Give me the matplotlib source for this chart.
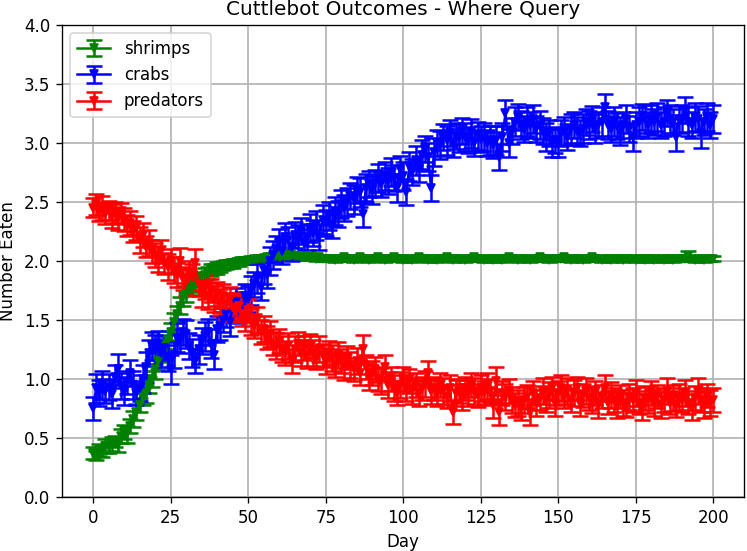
import numpy as np
import matplotlib.pyplot as plt

days = np.arange(0, 201)

# mean number eaten per day
shrimps = [0.37, 0.35, 0.40, 0.39, 0.43, 0.42, 0.45, 0.47, 0.44, 0.52,
           0.55, 0.53, 0.60, 0.66, 0.72, 0.78, 0.85, 0.88, 0.95, 1.00,
           1.08, 1.15, 1.22, 1.30, 1.33, 1.40, 1.48, 1.55, 1.62, 1.70,
           1.72, 1.76, 1.78, 1.80, 1.84, 1.86, 1.88, 1.90, 1.92, 1.93,
           1.94, 1.95, 1.96, 1.97, 1.97, 1.98, 1.99, 1.99, 2.00, 2.00,
           2.00, 2.01, 2.01, 2.02, 2.02, 2.02, 2.03, 2.03, 2.03, 2.04,
           2.04, 2.04, 2.05, 2.04, 2.05, 2.04, 2.04, 2.03, 2.04, 2.03,
           2.03, 2.03, 2.02, 2.03, 2.02, 2.02, 2.02, 2.02, 2.01, 2.02,
           2.02, 2.03, 2.02, 2.02, 2.01, 2.02, 2.03, 2.02, 2.02, 2.01,
           2.02, 2.02, 2.03, 2.02, 2.01, 2.02, 2.02, 2.03, 2.02, 2.02,
           2.01, 2.02, 2.02, 2.01, 2.02, 2.03, 2.02, 2.02, 2.01, 2.02,
           2.02, 2.01, 2.02, 2.02, 2.03, 2.02, 2.01, 2.02, 2.02, 2.02,
           2.01, 2.02, 2.02, 2.03, 2.02, 2.02, 2.01, 2.02, 2.02, 2.01,
           2.02, 2.02, 2.01, 2.02, 2.03, 2.02, 2.02, 2.01, 2.02, 2.02,
           2.02, 2.01, 2.02, 2.02, 2.03, 2.02, 2.02, 2.01, 2.02, 2.02,
           2.02, 2.02, 2.03, 2.02, 2.01, 2.02, 2.02, 2.02, 2.01, 2.02,
           2.02, 2.03, 2.02, 2.02, 2.01, 2.02, 2.02, 2.01, 2.02, 2.02,
           2.02, 2.01, 2.02, 2.02, 2.02, 2.01, 2.02, 2.02, 2.01, 2.02,
           2.02, 2.01, 2.02, 2.02, 2.01, 2.02, 2.02, 2.01, 2.02, 2.02,
           2.02, 2.02, 2.04, 2.02, 2.01, 2.02, 2.02, 2.01, 2.02, 2.02,
           2.02]
shrimps_err = [0.05, 0.04, 0.05, 0.05, 0.06, 0.05, 0.06, 0.05, 0.06, 0.06,
               0.06, 0.07, 0.06, 0.07, 0.07, 0.06, 0.07, 0.08, 0.07, 0.07,
               0.08, 0.07, 0.08, 0.07, 0.08, 0.07, 0.08, 0.07, 0.07, 0.08,
               0.07, 0.06, 0.07, 0.06, 0.06, 0.05, 0.06, 0.05, 0.05, 0.04,
               0.05, 0.04, 0.04, 0.04, 0.03, 0.04, 0.03, 0.03, 0.03, 0.03,
               0.03, 0.03, 0.02, 0.03, 0.02, 0.02, 0.03, 0.02, 0.02, 0.02,
               0.02, 0.02, 0.03, 0.02, 0.02, 0.02, 0.02, 0.02, 0.02, 0.02,
               0.02, 0.02, 0.02, 0.02, 0.02, 0.02, 0.02, 0.02, 0.02, 0.02,
               0.02, 0.02, 0.02, 0.02, 0.02, 0.02, 0.02, 0.02, 0.02, 0.02,
               0.02, 0.02, 0.02, 0.02, 0.02, 0.02, 0.02, 0.02, 0.02, 0.02,
               0.02, 0.02, 0.02, 0.02, 0.02, 0.02, 0.02, 0.02, 0.02, 0.02,
               0.02, 0.02, 0.02, 0.02, 0.02, 0.02, 0.02, 0.02, 0.02, 0.02,
               0.02, 0.02, 0.02, 0.02, 0.02, 0.02, 0.02, 0.02, 0.02, 0.02,
               0.02, 0.02, 0.02, 0.02, 0.02, 0.02, 0.02, 0.02, 0.02, 0.02,
               0.02, 0.02, 0.02, 0.02, 0.02, 0.02, 0.02, 0.02, 0.02, 0.02,
               0.02, 0.02, 0.02, 0.02, 0.02, 0.02, 0.02, 0.02, 0.02, 0.02,
               0.02, 0.02, 0.02, 0.02, 0.02, 0.02, 0.02, 0.02, 0.02, 0.02,
               0.02, 0.02, 0.02, 0.02, 0.02, 0.02, 0.02, 0.02, 0.02, 0.02,
               0.02, 0.02, 0.02, 0.02, 0.02, 0.02, 0.02, 0.02, 0.02, 0.02,
               0.02, 0.02, 0.04, 0.02, 0.02, 0.02, 0.02, 0.02, 0.02, 0.02,
               0.02]

crabs = [0.75, 0.92, 0.88, 0.95, 0.90, 0.93, 0.87, 1.02, 1.08, 0.94,
         0.90, 0.97, 1.05, 0.95, 0.88, 0.92, 1.00, 1.10, 1.22, 1.28,
         1.25, 1.30, 1.22, 1.26, 1.18, 1.08, 1.20, 1.35, 1.32, 1.40,
         1.38, 1.28, 1.22, 1.15, 1.25, 1.32, 1.36, 1.40, 1.30, 1.20,
         1.42, 1.45, 1.50, 1.55, 1.48, 1.60, 1.65, 1.58, 1.62, 1.70,
         1.68, 1.75, 1.80, 1.85, 1.78, 1.92, 1.88, 2.00, 2.05, 2.10,
         2.15, 2.08, 2.20, 2.18, 2.12, 2.22, 2.18, 2.25, 2.15, 2.20,
         2.28, 2.24, 2.30, 2.20, 2.35, 2.32, 2.38, 2.30, 2.42, 2.40,
         2.48, 2.45, 2.50, 2.55, 2.52, 2.60, 2.58, 2.40, 2.62, 2.65,
         2.60, 2.66, 2.70, 2.65, 2.72, 2.68, 2.75, 2.70, 2.62, 2.78,
         2.72, 2.58, 2.80, 2.75, 2.85, 2.78, 2.90, 2.95, 2.88, 2.62,
         2.92, 3.00, 2.98, 3.05, 3.02, 3.08, 3.00, 3.06, 3.04, 3.10,
         3.05, 3.02, 3.08, 3.00, 3.06, 3.03, 3.05, 3.00, 3.02, 2.98,
         3.02, 2.88, 3.05, 3.25, 3.00, 3.10, 3.18, 3.22, 3.15, 3.12,
         3.18, 3.15, 3.20, 3.12, 3.15, 3.10, 3.05, 3.08, 3.00, 3.02,
         3.00, 3.08, 3.10, 3.05, 3.12, 3.15, 3.10, 3.08, 3.12, 3.18,
         3.15, 3.20, 3.12, 3.15, 3.18, 3.30, 3.15, 3.12, 3.18, 3.14,
         3.10, 3.15, 3.20, 3.12, 3.05, 3.15, 3.18, 3.22, 3.20, 3.15,
         3.20, 3.18, 3.22, 3.15, 3.18, 3.25, 3.20, 3.18, 3.05, 3.20,
         3.20, 3.28, 3.18, 3.15, 3.22, 3.20, 3.08, 3.18, 3.22, 3.15,
         3.20]
crabs_err = [0.10, 0.12, 0.11, 0.12, 0.10, 0.11, 0.12, 0.10, 0.13, 0.11,
             0.12, 0.10, 0.11, 0.12, 0.10, 0.11, 0.12, 0.13, 0.11, 0.12,
             0.12, 0.11, 0.12, 0.10, 0.11, 0.12, 0.11, 0.12, 0.10, 0.11,
             0.12, 0.11, 0.12, 0.10, 0.12, 0.11, 0.12, 0.11, 0.12, 0.12,
             0.11, 0.12, 0.10, 0.11, 0.12, 0.11, 0.12, 0.11, 0.12, 0.10,
             0.11, 0.12, 0.11, 0.12, 0.11, 0.12, 0.11, 0.12, 0.12, 0.11,
             0.12, 0.11, 0.12, 0.11, 0.12, 0.11, 0.12, 0.11, 0.12, 0.11,
             0.12, 0.11, 0.12, 0.11, 0.12, 0.11, 0.12, 0.11, 0.12, 0.11,
             0.12, 0.11, 0.12, 0.11, 0.12, 0.11, 0.12, 0.11, 0.12, 0.11,
             0.12, 0.11, 0.12, 0.11, 0.12, 0.11, 0.12, 0.11, 0.12, 0.11,
             0.12, 0.11, 0.12, 0.11, 0.12, 0.11, 0.12, 0.11, 0.12, 0.11,
             0.12, 0.11, 0.12, 0.11, 0.12, 0.11, 0.12, 0.11, 0.12, 0.11,
             0.12, 0.11, 0.12, 0.11, 0.12, 0.11, 0.12, 0.11, 0.12, 0.11,
             0.12, 0.11, 0.12, 0.11, 0.12, 0.11, 0.12, 0.11, 0.12, 0.11,
             0.12, 0.11, 0.12, 0.11, 0.12, 0.11, 0.12, 0.11, 0.12, 0.11,
             0.12, 0.11, 0.12, 0.11, 0.12, 0.11, 0.12, 0.11, 0.12, 0.11,
             0.12, 0.11, 0.12, 0.11, 0.12, 0.11, 0.12, 0.11, 0.12, 0.11,
             0.12, 0.11, 0.12, 0.11, 0.12, 0.11, 0.12, 0.11, 0.12, 0.11,
             0.12, 0.11, 0.12, 0.11, 0.12, 0.11, 0.12, 0.11, 0.12, 0.11,
             0.12, 0.11, 0.12, 0.11, 0.12, 0.11, 0.12, 0.11, 0.12, 0.11,
             0.12]

predators = [2.45, 2.48, 2.42, 2.45, 2.40, 2.43, 2.38, 2.41, 2.36, 2.40,
             2.35, 2.30, 2.32, 2.25, 2.28, 2.18, 2.22, 2.12, 2.15, 2.08,
             2.05, 2.02, 2.08, 1.98, 1.95, 2.00, 1.92, 1.88, 2.00, 1.85,
             1.82, 1.90, 1.86, 1.98, 1.80, 1.72, 1.78, 1.70, 1.75, 1.68,
             1.72, 1.65, 1.70, 1.62, 1.68, 1.60, 1.58, 1.62, 1.55, 1.52,
             1.58, 1.48, 1.45, 1.50, 1.40, 1.42, 1.35, 1.38, 1.30, 1.28,
             1.32, 1.25, 1.22, 1.28, 1.15, 1.25, 1.30, 1.22, 1.26, 1.20,
             1.28, 1.22, 1.18, 1.25, 1.20, 1.15, 1.22, 1.18, 1.12, 1.20,
             1.15, 1.10, 1.18, 1.12, 1.08, 1.15, 1.05, 1.25, 1.10, 1.02,
             1.05, 1.08, 1.00, 0.98, 1.10, 0.95, 1.00, 0.92, 0.88, 0.95,
             1.00, 0.92, 0.98, 0.90, 0.95, 0.88, 0.92, 0.96, 1.05, 0.90,
             0.92, 0.88, 0.95, 0.90, 0.85, 0.92, 0.72, 0.88, 0.90, 0.85,
             0.92, 0.88, 0.95, 0.90, 0.86, 0.92, 0.88, 0.94, 0.90, 0.78,
             0.98, 0.72, 0.88, 0.85, 0.90, 0.82, 0.78, 0.80, 0.75, 0.82,
             0.85, 0.72, 0.88, 0.80, 0.84, 0.90, 0.82, 0.86, 0.92, 0.80,
             0.88, 0.92, 0.85, 0.90, 0.82, 0.88, 0.92, 0.80, 0.86, 0.90,
             0.84, 0.82, 0.88, 0.78, 0.85, 0.92, 0.80, 0.86, 0.82, 0.78,
             0.85, 0.80, 0.78, 0.85, 0.82, 0.88, 0.80, 0.76, 0.84, 0.82,
             0.88, 0.80, 0.85, 0.78, 0.82, 0.90, 0.80, 0.84, 0.78, 0.85,
             0.82, 0.88, 0.80, 0.76, 0.84, 0.90, 0.82, 0.78, 0.86, 0.80,
             0.82]
predators_err = [0.08, 0.09, 0.08, 0.10, 0.09, 0.08, 0.10, 0.09, 0.10, 0.09,
                 0.10, 0.09, 0.10, 0.09, 0.10, 0.11, 0.10, 0.09, 0.11, 0.10,
                 0.10, 0.11, 0.10, 0.09, 0.11, 0.10, 0.11, 0.10, 0.11, 0.10,
                 0.11, 0.10, 0.11, 0.12, 0.10, 0.11, 0.10, 0.11, 0.10, 0.11,
                 0.10, 0.11, 0.10, 0.11, 0.10, 0.11, 0.10, 0.11, 0.10, 0.11,
                 0.10, 0.11, 0.10, 0.11, 0.10, 0.11, 0.10, 0.11, 0.10, 0.11,
                 0.10, 0.11, 0.10, 0.11, 0.10, 0.11, 0.10, 0.11, 0.10, 0.11,
                 0.10, 0.11, 0.10, 0.11, 0.10, 0.11, 0.10, 0.11, 0.10, 0.11,
                 0.10, 0.11, 0.10, 0.11, 0.10, 0.11, 0.10, 0.12, 0.10, 0.11,
                 0.10, 0.11, 0.10, 0.11, 0.10, 0.11, 0.10, 0.11, 0.10, 0.11,
                 0.10, 0.11, 0.10, 0.11, 0.10, 0.11, 0.10, 0.11, 0.10, 0.11,
                 0.10, 0.11, 0.10, 0.11, 0.10, 0.11, 0.10, 0.11, 0.10, 0.11,
                 0.10, 0.11, 0.10, 0.11, 0.10, 0.11, 0.10, 0.11, 0.10, 0.11,
                 0.12, 0.11, 0.10, 0.11, 0.10, 0.11, 0.10, 0.11, 0.10, 0.11,
                 0.10, 0.11, 0.10, 0.11, 0.10, 0.11, 0.10, 0.11, 0.10, 0.11,
                 0.10, 0.11, 0.10, 0.11, 0.10, 0.11, 0.10, 0.11, 0.10, 0.11,
                 0.10, 0.11, 0.10, 0.11, 0.10, 0.11, 0.10, 0.11, 0.10, 0.11,
                 0.10, 0.11, 0.10, 0.11, 0.10, 0.11, 0.10, 0.11, 0.10, 0.11,
                 0.10, 0.11, 0.10, 0.11, 0.10, 0.11, 0.10, 0.11, 0.10, 0.11,
                 0.10, 0.11, 0.10, 0.11, 0.10, 0.11, 0.10, 0.11, 0.10, 0.11,
                 0.10]

fig, ax = plt.subplots(figsize=(6.233, 4.592), dpi=120)
fig.subplots_adjust(left=0.083, right=0.995, top=0.955, bottom=0.098)

ax.errorbar(days, shrimps, yerr=shrimps_err, color='green', marker='v',
            markersize=5, linewidth=1.5, elinewidth=1.5, capsize=5, capthick=1.5,
            label='shrimps')
ax.errorbar(days, crabs, yerr=crabs_err, color='blue', marker='v',
            markersize=5, linewidth=1.5, elinewidth=1.5, capsize=5, capthick=1.5,
            label='crabs')
ax.errorbar(days, predators, yerr=predators_err, color='red', marker='v',
            markersize=5, linewidth=1.5, elinewidth=1.5, capsize=5, capthick=1.5,
            label='predators')

ax.set_ylim(0, 4.0)
ax.set_xlabel('Day')
ax.set_ylabel('Number Eaten')
ax.set_title('Cuttlebot Outcomes - Where Query')
ax.grid(True, linewidth=1.0)
ax.legend(loc='upper left')

fig.savefig('out.png')
